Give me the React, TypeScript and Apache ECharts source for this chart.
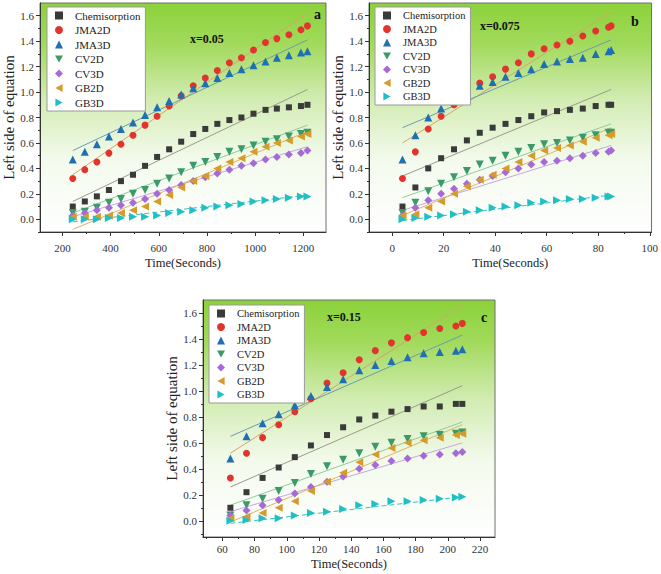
import React, { useEffect, useRef } from 'react';
import * as echarts from 'echarts';

// ---------- data ----------
const seriesNames = ['Chemisorption', 'JMA2D', 'JMA3D', 'CV2D', 'CV3D', 'GB2D', 'GB3D'];

// panel a (x=0.05)
const timeA = [243, 293, 343, 393, 443, 493, 543, 593, 643, 693, 743, 793, 843, 893, 943, 993, 1043, 1090, 1140, 1190, 1217];
const chemA = [0.10, 0.14, 0.18, 0.23, 0.30, 0.35, 0.42, 0.49, 0.55, 0.61, 0.67, 0.71, 0.75, 0.78, 0.80, 0.83, 0.86, 0.87, 0.88, 0.89, 0.90];
const jma2A = [0.32, 0.39, 0.45, 0.52, 0.59, 0.66, 0.74, 0.81, 0.89, 0.97, 1.05, 1.11, 1.17, 1.23, 1.27, 1.33, 1.39, 1.42, 1.45, 1.49, 1.52];
const jma3A = [0.47, 0.53, 0.59, 0.65, 0.71, 0.76, 0.82, 0.88, 0.93, 0.98, 1.03, 1.07, 1.11, 1.15, 1.18, 1.21, 1.24, 1.27, 1.29, 1.31, 1.32];
const cv2A = [0.05, 0.06, 0.09, 0.13, 0.16, 0.20, 0.23, 0.28, 0.32, 0.37, 0.42, 0.45, 0.49, 0.53, 0.55, 0.58, 0.61, 0.63, 0.65, 0.67, 0.68];
const cv3A = [0.03, 0.05, 0.07, 0.09, 0.11, 0.13, 0.16, 0.20, 0.23, 0.27, 0.30, 0.33, 0.36, 0.39, 0.42, 0.44, 0.47, 0.49, 0.51, 0.52, 0.54];
const gb2A = [0.02, 0.02, 0.02, 0.03, 0.05, 0.07, 0.10, 0.14, 0.19, 0.25, 0.30, 0.34, 0.40, 0.45, 0.48, 0.53, 0.57, 0.60, 0.62, 0.65, 0.67];
const gb3A = [0.00, 0.00, 0.00, 0.01, 0.01, 0.02, 0.02, 0.03, 0.05, 0.06, 0.07, 0.09, 0.10, 0.11, 0.12, 0.14, 0.15, 0.16, 0.17, 0.18, 0.18];
// fitted lines: [value at first time, value at last time]
const fitA = [[0.14, 1.02], [0.35, 1.62], [0.54, 1.41], [0.05, 0.74], [0.02, 0.57], [-0.08, 0.69], [-0.02, 0.19]];

// panel b (x=0.075)
const timeB = [4, 9, 14, 19, 24, 29, 34, 39, 44, 49, 54, 59, 64, 69, 74, 79, 84, 85];
const chemB = [0.10, 0.25, 0.40, 0.48, 0.55, 0.62, 0.68, 0.72, 0.75, 0.78, 0.81, 0.84, 0.85, 0.86, 0.87, 0.89, 0.90, 0.90];
const jma2B = [0.32, 0.53, 0.71, 0.81, 0.90, 0.98, 1.07, 1.12, 1.18, 1.23, 1.30, 1.34, 1.37, 1.40, 1.44, 1.48, 1.51, 1.52];
const jma3B = [0.47, 0.66, 0.80, 0.87, 0.94, 0.99, 1.05, 1.08, 1.12, 1.15, 1.18, 1.22, 1.24, 1.26, 1.27, 1.30, 1.32, 1.33];
const cv2B = [0.05, 0.13, 0.22, 0.28, 0.33, 0.38, 0.43, 0.46, 0.50, 0.53, 0.56, 0.59, 0.60, 0.62, 0.64, 0.66, 0.68, 0.68];
const cv3B = [0.03, 0.09, 0.15, 0.20, 0.24, 0.28, 0.31, 0.34, 0.37, 0.40, 0.43, 0.45, 0.46, 0.48, 0.50, 0.52, 0.53, 0.54];
const gb2B = [0.03, 0.04, 0.09, 0.14, 0.20, 0.26, 0.31, 0.35, 0.40, 0.45, 0.50, 0.54, 0.56, 0.58, 0.61, 0.64, 0.66, 0.67];
const gb3B = [0.00, 0.01, 0.02, 0.03, 0.04, 0.06, 0.07, 0.09, 0.10, 0.11, 0.13, 0.14, 0.15, 0.16, 0.16, 0.17, 0.18, 0.18];
const fitB = [[0.34, 1.02], [0.60, 1.63], [0.72, 1.41], [0.17, 0.75], [0.07, 0.58], [0.03, 0.72], [-0.01, 0.19]];

// panel c (x=0.15)
const timeC = [65, 75, 85, 95, 105, 115, 125, 135, 145, 155, 165, 175, 185, 195, 205, 209];
const chemC = [0.10, 0.22, 0.33, 0.41, 0.49, 0.58, 0.66, 0.72, 0.78, 0.81, 0.84, 0.86, 0.88, 0.88, 0.90, 0.90];
const jma2C = [0.33, 0.52, 0.64, 0.74, 0.84, 0.94, 1.06, 1.14, 1.24, 1.31, 1.37, 1.41, 1.45, 1.48, 1.50, 1.52];
const jma3C = [0.48, 0.65, 0.75, 0.82, 0.89, 0.96, 1.03, 1.09, 1.16, 1.20, 1.23, 1.26, 1.29, 1.30, 1.31, 1.32];
const cv2C = [0.04, 0.12, 0.17, 0.23, 0.29, 0.36, 0.42, 0.47, 0.52, 0.57, 0.60, 0.63, 0.65, 0.66, 0.67, 0.68];
const cv3C = [0.04, 0.08, 0.12, 0.16, 0.21, 0.26, 0.30, 0.34, 0.40, 0.43, 0.46, 0.48, 0.50, 0.51, 0.52, 0.53];
const gb2C = [0.02, 0.03, 0.06, 0.10, 0.15, 0.23, 0.30, 0.37, 0.45, 0.51, 0.56, 0.60, 0.62, 0.64, 0.66, 0.67];
const gb3C = [0.00, 0.005, 0.02, 0.02, 0.04, 0.06, 0.07, 0.09, 0.12, 0.13, 0.15, 0.15, 0.16, 0.17, 0.18, 0.185];
const fitC = [[0.26, 1.04], [0.52, 1.66], [0.65, 1.43], [0.12, 0.76], [0.07, 0.60], [-0.01, 0.74], [-0.02, 0.185]];

// axis ticks
const xMajorA = [200, 400, 600, 800, 1000, 1200];
const xMinorA = [300, 500, 700, 900, 1100];
const xMajorB = [0, 20, 40, 60, 80, 100];
const xMinorB = [-10, 10, 30, 50, 70, 90];
const xMajorC = [60, 80, 100, 120, 140, 160, 180, 200, 220];
const xMinorC = [50, 70, 90, 110, 130, 150, 170, 190, 210];
const yMajor = [0, 0.2, 0.4, 0.6, 0.8, 1.0, 1.2, 1.4, 1.6];
const yMinor = [-0.1, 0.1, 0.3, 0.5, 0.7, 0.9, 1.1, 1.3, 1.5];

const panelTitles = ['x=0.05', 'x=0.075', 'x=0.15'];
const panelLetters = ['a', 'b', 'c'];

// ---------- styles ----------
const SERIF = "'Liberation Serif', 'Times New Roman', serif";
const colors = ['#3a3a3a', '#e2342f', '#1f6fb2', '#3a9a68', '#a66ad6', '#d59b2b', '#1fbfc4'];
const fitColors = ['#9a9a8c', '#d9a26c', '#6a9cac', '#8dca9f', '#c6a6e2', '#e2b262', '#36c2c4'];
const TRI_DOWN = 'path://M0,0L10,0L5,9Z';
const TRI_LEFT = 'path://M9,0L9,10L0,5Z';
const TRI_RIGHT = 'path://M0,0L9,5L0,10Z';
const symbols = ['rect', 'circle', 'triangle', TRI_DOWN, 'diamond', TRI_LEFT, TRI_RIGHT];
const sizes = [6, 7, 8, 8, 8, 8, 8];

const layouts = [
  { left: 40, top: 3, width: 286, height: 229 },
  { left: 369, top: 3, width: 284, height: 229 },
  { left: 203, top: 300, width: 292, height: 237 },
];
const xRanges = [[107, 1294], [-9, 100.7], [48, 229.3]];
const yRanges = [[-0.1, 1.7], [-0.1, 1.7], [-0.125, 1.7]];
const legendPos = [{ left: 47, top: 7 }, { left: 375, top: 7 }, { left: 209, top: 305 }];

function buildOption() {
  const panels = [
    { x: timeA, ys: [chemA, jma2A, jma3A, cv2A, cv3A, gb2A, gb3A], fits: fitA, xMaj: xMajorA, xMin: xMinorA },
    { x: timeB, ys: [chemB, jma2B, jma3B, cv2B, cv3B, gb2B, gb3B], fits: fitB, xMaj: xMajorB, xMin: xMinorB },
    { x: timeC, ys: [chemC, jma2C, jma3C, cv2C, cv3C, gb2C, gb3C], fits: fitC, xMaj: xMajorC, xMin: xMinorC },
  ];

  const bg = {
    type: 'linear', x: 0, y: 0, x2: 0, y2: 1,
    colorStops: [
      { offset: 0, color: '#8bd23a' },
      { offset: 0.18, color: '#a2da5c' },
      { offset: 0.42, color: '#d2ecb2' },
      { offset: 0.68, color: '#f3faec' },
      { offset: 1, color: '#ffffff' },
    ],
  };

  const grid = layouts.map((l) => ({
    ...l, show: true, backgroundColor: bg, borderColor: '#6e6e6e', borderWidth: 1,
  }));

  const axisLineStyle = { color: '#333', width: 1 };
  const labelStyle = { fontFamily: SERIF, fontSize: 11, color: '#333' };

  const xAxis: any[] = [];
  const yAxis: any[] = [];
  panels.forEach((p, i) => {
    xAxis.push({
      type: 'value', gridIndex: i, position: 'bottom', min: xRanges[i][0], max: xRanges[i][1],
      name: 'Time(Seconds)', nameLocation: 'middle', nameGap: i === 2 ? 20 : 24,
      nameTextStyle: { fontFamily: SERIF, fontSize: 12.5, color: '#222' },
      axisLine: { show: true, onZero: false, lineStyle: axisLineStyle },
      axisTick: { show: true, inside: false, length: 4, customValues: p.xMaj, lineStyle: axisLineStyle },
      axisLabel: { ...labelStyle, customValues: p.xMaj, margin: i === 2 ? 6 : 10, formatter: (v: number) => String(Math.round(v)) },
      splitLine: { show: false },
    });
    yAxis.push({
      type: 'value', gridIndex: i, position: 'left', min: yRanges[i][0], max: yRanges[i][1],
      name: 'Left side of equation', nameLocation: 'middle', nameGap: 18,
      nameTextStyle: { fontFamily: SERIF, fontSize: 15, color: '#222' },
      axisLine: { show: true, onZero: false, lineStyle: axisLineStyle },
      axisTick: { show: true, inside: false, length: 4, customValues: yMajor, lineStyle: axisLineStyle },
      axisLabel: { ...labelStyle, customValues: yMajor, margin: 6, formatter: (v: number) => v.toFixed(1) },
      splitLine: { show: false },
    });
  });
  panels.forEach((p, i) => {
    xAxis.push({
      type: 'value', gridIndex: i, position: 'bottom', min: xRanges[i][0], max: xRanges[i][1],
      axisLine: { show: false, onZero: false },
      axisTick: { show: true, inside: false, length: 2, customValues: p.xMin, lineStyle: axisLineStyle },
      axisLabel: { show: false },
      splitLine: { show: false },
    });
    yAxis.push({
      type: 'value', gridIndex: i, position: 'left', min: yRanges[i][0], max: yRanges[i][1],
      axisLine: { show: false, onZero: false },
      axisTick: { show: true, inside: false, length: 2, customValues: yMinor, lineStyle: axisLineStyle },
      axisLabel: { show: false },
      splitLine: { show: false },
    });
  });

  const series: any[] = [];
  panels.forEach((p, i) => {
    const x0 = p.x[0];
    const x1 = p.x[p.x.length - 1];
    p.fits.forEach((f, k) => {
      series.push({
        type: 'line', name: seriesNames[k] + ' fit ' + i, xAxisIndex: i, yAxisIndex: i,
        data: [[x0, f[0]], [x1, f[1]]], symbol: 'none', silent: true, z: 2,
        lineStyle: { color: fitColors[k], width: 1, type: k === 6 ? [5, 3] : 'solid' },
      });
    });
    p.ys.forEach((ys, k) => {
      series.push({
        type: 'scatter', name: seriesNames[k], xAxisIndex: i, yAxisIndex: i,
        data: p.x.map((x, j) => [x, ys[j]]),
        symbol: symbols[k], symbolSize: sizes[k], z: 3,
        itemStyle: { color: colors[k], opacity: 1 },
      });
    });
  });

  const legend = legendPos.map((pos, i) => ({
    data: seriesNames.map((n, k) => ({ name: n, icon: symbols[k] })),
    orient: 'vertical', left: pos.left, top: pos.top,
    itemWidth: 8, itemHeight: 8, itemGap: i === 0 ? 3.5 : 2.5,
    backgroundColor: '#ffffff', borderColor: '#9a9a9a', borderWidth: 1,
    padding: [3, 5, 3, 8], selectedMode: false,
    textStyle: { fontFamily: SERIF, fontSize: i === 0 ? 11 : 10.5, color: '#222', padding: [0, 0, 0, 7] },
  }));

  const titlePos = [[190, 40], [480, 27], [327, 318]];
  const letterPos = [[318, 15], [635, 22], [485, 318]];
  const graphic: any[] = [];
  titlePos.forEach((tp, i) => {
    graphic.push({
      type: 'text', left: tp[0], top: tp[1] - 7, z: 10,
      style: { text: panelTitles[i], font: `bold 12px ${SERIF}`, fill: '#111' },
    });
    graphic.push({
      type: 'text', left: letterPos[i][0] - 4, top: letterPos[i][1] - 8, z: 10,
      style: { text: panelLetters[i], font: `bold 14px ${SERIF}`, fill: '#111' },
    });
  });

  return { animation: false, grid, xAxis, yAxis, series, legend, graphic };
}

export default function App() {
  const ref = useRef<HTMLDivElement>(null);
  useEffect(() => {
    if (!ref.current) return;
    const chart = echarts.init(ref.current, undefined, { renderer: 'svg' });
    chart.setOption(buildOption() as any);
    return () => chart.dispose();
  }, []);
  return (
    <div
      ref={ref}
      style={{ position: 'fixed', left: 0, top: 0, width: 661, height: 574, background: '#ffffff' }}
    />
  );
}
